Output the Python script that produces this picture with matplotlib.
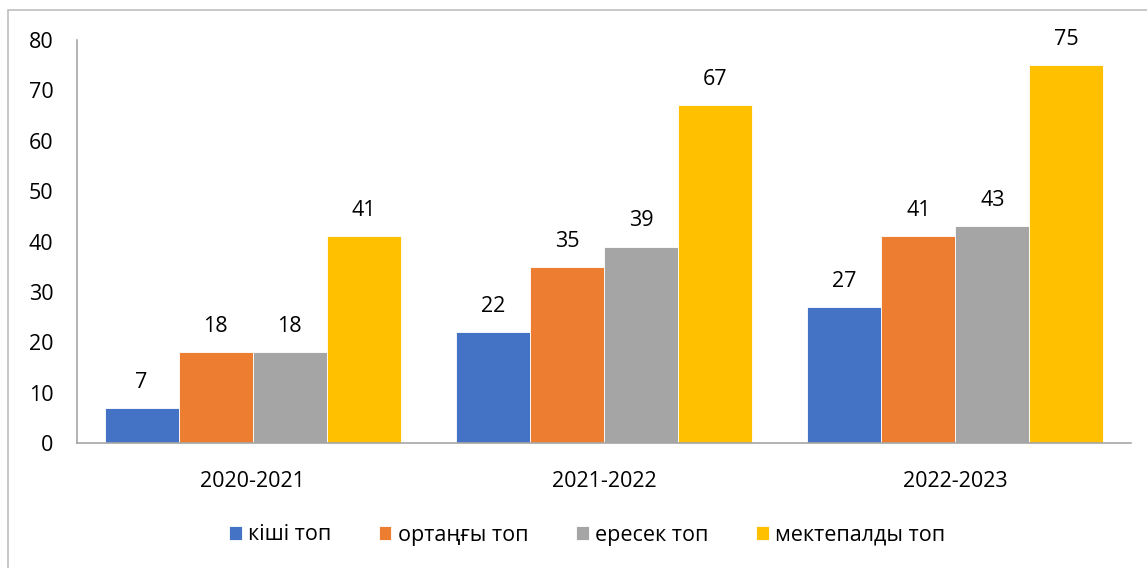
import numpy as np
import matplotlib

matplotlib.use("Agg")
import matplotlib.pyplot as plt
from matplotlib.patches import Rectangle

plt.rcParams["font.family"] = ["Open Sans", "DejaVu Sans"]

# ── Data ──
years = ["2020-2021", "2021-2022", "2022-2023"]
series_names = ["кіші топ", "ортаңғы топ", "ересек топ", "мектепалды топ"]
kishi = [7, 22, 27]
ortangy = [18, 35, 41]
eresek = [18, 39, 43]
mektepaldy = [41, 67, 75]
colors = ["#4472C4", "#ED7D31", "#A5A5A5", "#FFC000"]

series = [kishi, ortangy, eresek, mektepaldy]

FS = 15.5

fig = plt.figure(figsize=(11.47, 5.68), dpi=100, facecolor="white")
ax = fig.add_axes([77 / 1147, 125 / 568, (1131 - 77) / 1147, (443 - 40) / 568])

# outer chart frame (cropped on right/bottom as in the source)
fig.patches.append(Rectangle((8 / 1147, -0.1), 1.2, (568 - 10) / 568 + 0.1,
                             transform=fig.transFigure, fill=False,
                             edgecolor="#BFBFBF", linewidth=1.2))

x = np.arange(len(years))
bw = 0.2107
for i, (vals, name, c) in enumerate(zip(series, series_names, colors)):
    pos = x + (i - 1.5) * bw
    bars = ax.bar(pos, vals, width=bw, color=c, edgecolor="white",
                  linewidth=0.6, label=name, zorder=2)
    for b, v in zip(bars, vals):
        ax.text(b.get_x() + b.get_width() / 2, v + 3.0, str(v),
                ha="center", va="bottom", fontsize=FS, color="#000000")

ax.set_xlim(-0.5, 2.5)
ax.set_ylim(0, 80)
ax.set_yticks(range(0, 81, 10))
ax.set_xticks(x)
ax.set_xticklabels(years)
ax.tick_params(axis="y", length=0, pad=17, labelsize=FS)
ax.tick_params(axis="x", length=0, pad=20, labelsize=FS)
for lab in ax.get_yticklabels():
    lab.set_horizontalalignment("right")

for s in ["top", "right"]:
    ax.spines[s].set_visible(False)
ax.spines["left"].set_color("#A6A6A6")
ax.spines["bottom"].set_color("#A6A6A6")
ax.spines["left"].set_linewidth(1.2)
ax.spines["bottom"].set_linewidth(1.2)

fig.legend(loc="center", bbox_to_anchor=(587 / 1147, 1 - 535 / 568), ncol=4,
           frameon=False, fontsize=FS, handlelength=0.6, handleheight=0.6,
           handletextpad=0.3, columnspacing=2.2)

fig.savefig("out.png", dpi=100, facecolor="white")
